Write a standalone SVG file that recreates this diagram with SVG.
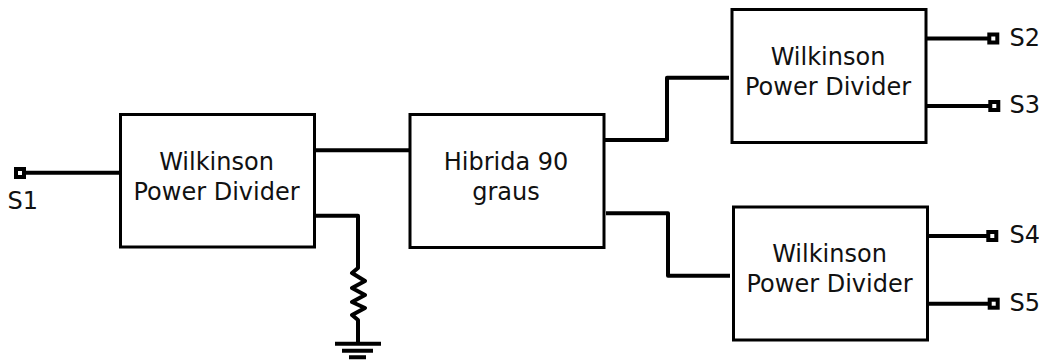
<svg xmlns="http://www.w3.org/2000/svg" width="1039" height="360" viewBox="0 0 1039 360">
<style>
.box{fill:#fff;stroke:#000;stroke-width:3}
.wire{fill:none;stroke:#000;stroke-width:4;stroke-linejoin:round}
.port{fill:#fff;stroke:#000;stroke-width:4}
text{font-family:"DejaVu Sans",sans-serif;font-size:24px;fill:#111}
.c{text-anchor:middle}
</style>
<rect width="1039" height="360" fill="#fff"/>
<g id="connectors">
<path class="wire" d="M20 172.7H120"/>
<path class="wire" d="M315 150.3H410"/>
<path class="wire" d="M315 215.7H358V268L352 273L365 281L352 288L365 295L352 302L365 308L352 315L358 320V344"/>
<path class="wire" d="M335 343.7H381M342 350.7H373M349 357.3H366"/>
<path class="wire" d="M604 140H667V77.7H729"/>
<path class="wire" d="M606 213.3H668V275.7H730"/>
<path class="wire" d="M926 38.5H993"/>
<path class="wire" d="M926 106H994"/>
<path class="wire" d="M927 236H992"/>
<path class="wire" d="M927 303.7H994"/>
</g>
<g id="wpd1"><rect class="box" x="120.5" y="114.5" width="194" height="132.5"/><text class="c" x="216.5" y="170">Wilkinson</text><text class="c" x="216.5" y="200">Power Divider</text></g>
<g id="hybrid"><rect class="box" x="410" y="114.5" width="194" height="133"/><text class="c" x="506" y="170">Hibrida 90</text><text class="c" x="506" y="200">graus</text></g>
<g id="wpd2"><rect class="box" x="732" y="9.5" width="194" height="133"/><text class="c" x="828" y="65">Wilkinson</text><text class="c" x="828" y="95">Power Divider</text></g>
<g id="wpd3"><rect class="box" x="733.5" y="207" width="194" height="133"/><text class="c" x="829.5" y="262">Wilkinson</text><text class="c" x="829.5" y="292">Power Divider</text></g>
<g id="s1"><rect class="port" x="16" y="169" width="8" height="8"/><text x="7.5" y="208.5">S1</text></g>
<g id="s2"><rect class="port" x="989.3" y="34.5" width="8" height="8"/><text x="1009.5" y="46">S2</text></g>
<g id="s3"><rect class="port" x="990.3" y="102" width="8" height="8"/><text x="1009.5" y="113">S3</text></g>
<g id="s4"><rect class="port" x="988.3" y="232" width="8" height="8"/><text x="1009.5" y="243">S4</text></g>
<g id="s5"><rect class="port" x="989.7" y="299.7" width="8" height="8"/><text x="1009.5" y="311">S5</text></g>
</svg>
